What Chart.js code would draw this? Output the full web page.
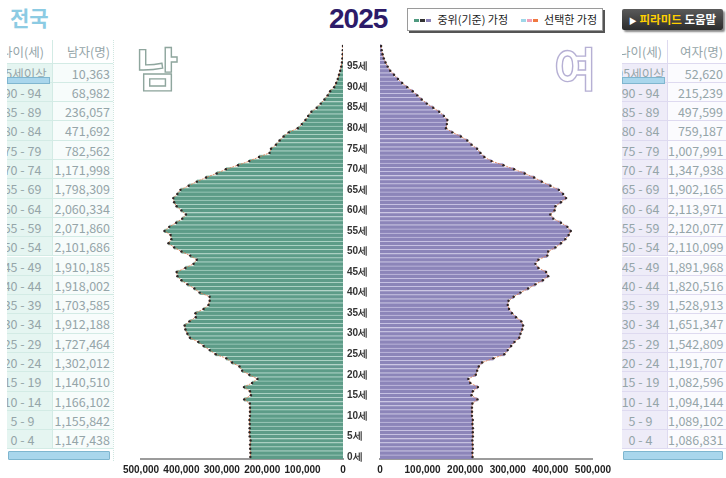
<!DOCTYPE html>
<html>
<head>
<meta charset="utf-8">
<script src="https://cdn.jsdelivr.net/npm/chart.js@4.4.1/dist/chart.umd.min.js"></script>
<style>
body { margin:0; width:726px; height:478px; overflow:hidden; background:#fff; position:relative;
       font-family:"Noto Sans CJK KR","Noto Sans",sans-serif; }
.abs { position:absolute; }
#region { left:10px; top:2px; font-size:21px; font-weight:bold; color:#8ccbe3; }
#year { left:329px; top:3px; font-family:"Liberation Sans",Arial,sans-serif; font-size:28px; font-weight:bold; color:#2d1b69; letter-spacing:-1px; }
#legend { left:407px; top:8px; width:194px; height:21px; border:1px solid #9a9a9a; box-shadow:2px 2px 0 #555; background:#fff;
          font-size:11px; color:#222; line-height:21px; white-space:nowrap; }
#legend .ico { display:inline-block; vertical-align:middle; height:3px; width:5px; margin-right:1px; position:relative; top:-1px; }
#helpBtn { left:622px; top:9px; width:101px; height:21px; background:linear-gradient(#5a5a5a,#2c2c2c); border-radius:2px;
           box-shadow:2px 2px 2px #888; font-size:11.5px; font-weight:bold; line-height:21px; text-align:center; color:#fff; white-space:nowrap; }
.sex { font-size:46px; font-weight:bold; color:#fff; line-height:46px; }
#male { left:136px; top:43px; -webkit-text-stroke:1.4px #8fa69e; }
#female { left:554px; top:43px; -webkit-text-stroke:1.4px #b6b0d4; }
.tbl { overflow:hidden; top:40px; height:421px; font-size:12.5px; color:#95a5a9; }
.cell { position:absolute; box-sizing:border-box; white-space:nowrap; overflow:hidden; }
canvas { position:absolute; top:0; }
</style>
</head>
<body>

<div id="region" class="abs">전국</div>
<div id="year" class="abs">2025</div>
<div id="legend" class="abs">
  <span style="margin-left:6px"></span><span class="ico" style="background:#4f9a80"></span><span class="ico" style="background:#333"></span><span class="ico" style="background:#8b83b8"></span>
  <span style="margin-left:3px">중위(기준) 가정</span>
  <span style="margin-left:10px"></span><span class="ico" style="background:#9fd6e8"></span><span class="ico" style="background:#f0a0b8"></span><span class="ico" style="background:#f07840"></span>
  <span style="margin-left:3px">선택한 가정</span>
</div>
<div id="helpBtn" class="abs"><span style="font-size:8px">▶</span> <span style="color:#ffd000">피라미드</span> 도움말</div>

<div id="leftTable" class="abs tbl" style="left:7px;width:106px;border-right:1px dotted #cfe6e0"></div>
<div id="rightTable" class="abs tbl" style="left:622px;width:104px"></div>

<canvas id="maleChart" width="255" height="478" style="left:100px"></canvas>
<canvas id="femaleChart" width="273" height="478" style="left:343px"></canvas>

<div id="male" class="abs sex">남</div>
<div id="female" class="abs sex">여</div>

<script>
// single-year ages, 0 ~ 100
const ages = Array.from({ length: 101 }, (_, i) => i);

// 남자, 중위(기준) 가정
const maleBase = [
    229400, 229200, 229800, 230100, 228900,
    231000, 231300, 231100, 230900, 231500,
    230400, 230200, 230300, 230600, 244600,
    228100, 230400, 245200, 225000, 211800,
    232000, 249800, 256300, 274900, 289000,
    315200, 330100, 345000, 358200, 379000,
    385300, 390100, 392000, 380200, 364600,
    365200, 345100, 333000, 330100, 330200,
    355100, 368000, 385000, 400000, 409900,
    411800, 390200, 370000, 361900, 378300,
    400000, 418000, 432000, 424900, 426800,
    441900, 430100, 413000, 398000, 388900,
    400100, 412000, 418000, 420100, 410100,
    402300, 382100, 362000, 339000, 312900,
    290100, 260000, 232100, 207900, 181900,
    178200, 166000, 157000, 147100, 134300,
    112100, 102000, 93100, 86200, 78300,
    65000, 55100, 46000, 38000, 31900,
    22000, 17000, 13000, 10000, 7000,
    4500, 2700, 1600, 900, 500, 160
];
// 남자, 선택한 가정
const maleSel = maleBase.slice();

// 여자, 중위(기준) 가정
const femaleBase = [
    217300, 217000, 218000, 217600, 216900,
    218100, 217900, 218200, 217000, 217900,
    216000, 216100, 216000, 217000, 229000,
    215000, 218100, 230000, 212000, 207500,
    225000, 228200, 232000, 240000, 266500,
    292000, 300000, 308000, 315800, 327000,
    330000, 334000, 336000, 331800, 319500,
    310000, 303000, 300000, 301900, 314000,
    330000, 348000, 365000, 382500, 395000,
    390000, 372000, 365000, 372000, 393000,
    395000, 412000, 425000, 435100, 443000,
    448000, 440000, 425000, 407100, 400000,
    410000, 412000, 425000, 437000, 430000,
    420000, 400200, 380000, 362000, 340000,
    315000, 290000, 262000, 245000, 235900,
    228000, 215000, 205000, 190000, 170000,
    155000, 157000, 158200, 150000, 139000,
    125000, 110000, 98000, 87600, 77000,
    64000, 52000, 42200, 33000, 24000,
    18000, 13000, 9000, 6000, 4000, 2600
];
// 여자, 선택한 가정
const femaleSel = femaleBase.slice();

// side tables
const ageGroups = ["95세이상", "90 - 94", "85 - 89", "80 - 84", "75 - 79", "70 - 74", "65 - 69", "60 - 64", "55 - 59", "50 - 54",
                   "45 - 49", "40 - 44", "35 - 39", "30 - 34", "25 - 29", "20 - 24", "15 - 19", "10 - 14", "5 - 9", "0 - 4"];
const maleTotals = [10363, 68982, 236057, 471692, 782562, 1171998, 1798309, 2060334, 2071860, 2101686,
                    1910185, 1918002, 1703585, 1912188, 1727464, 1302012, 1140510, 1166102, 1155842, 1147438];
const femaleTotals = [52620, 215239, 497599, 759187, 1007991, 1347938, 1902165, 2113971, 2120077, 2110099,
                      1891968, 1820516, 1528913, 1651347, 1542809, 1191707, 1082596, 1094144, 1089102, 1086831];

const xTicks = [0, 100000, 200000, 300000, 400000, 500000];

function buildTable(el, head2, totals, shift, w1, w2, bg1, bg2, line, bar) {
    const headH = 23.5, rowH = 19.3;
    let html = "";
    const rows = [["나이(세)", head2]].concat(ageGroups.map((g, i) => [g, totals[i].toLocaleString("en-US")]));
    rows.forEach((r, i) => {
        const top = i === 0 ? 0 : headH + (i - 1) * rowH;
        const h = i === 0 ? headH : rowH;
        html += `<div class="cell" style="left:${shift}px;top:${top}px;width:${w1}px;height:${h}px;line-height:${h}px;text-align:center;background:${i ? bg1 : "#fff"};border-bottom:1px solid ${line};border-right:1px solid ${line}">${r[0]}</div>`;
        html += `<div class="cell" style="left:${shift + w1}px;top:${top}px;width:${w2}px;height:${h}px;line-height:${h}px;text-align:right;padding-right:3px;background:${i ? bg2 : "#fff"};border-bottom:1px solid ${line}">${r[1]}</div>`;
    });
    html += `<div class="cell" style="left:0;top:37px;width:43px;height:7px;background:${bar};border:1px solid #7fb6cf"></div>`;
    html += `<div class="cell" style="left:1px;top:411px;width:${w1 + w2 + shift - 4}px;height:9px;background:${bar};border:1px solid #7fb6cf;border-radius:1px"></div>`;
    el.innerHTML = html;
}
buildTable(document.getElementById("leftTable"), "남자(명)", maleTotals, -14, 60, 60, "#e5f5f1", "#f7fcfb", "#d3ebe5", "#a9d6ec");
buildTable(document.getElementById("rightTable"), "여자(명)", femaleTotals, -8, 54, 58, "#eeecf8", "#fbfbfe", "#dedaf0", "#a9d6ec");

// charts draw top to bottom, so oldest age first
const labels = ages.slice().reverse().map(String);
const rev = arr => arr.slice().reverse();

function xScale(reverse) {
    return {
        min: 0, max: 500000, reverse: reverse,
        afterBuildTicks: s => { s.ticks = xTicks.map(v => ({ value: v })); },
        ticks: { autoSkip: false, callback: v => v.toLocaleString("en-US"), font: { size: 10, weight: "bold", family: "Liberation Sans" }, color: "#222", maxRotation: 0, padding: 5 },
        grid: { display: false, drawTicks: false },
        border: { color: "#9b9b9b", width: 2, dash: [19, 2] },
        afterFit: s => { s.height = 19; }
    };
}

function datasets(base, sel, fill, stripe) {
    return [
        { type: "line", indexAxis: "y", data: rev(sel), borderColor: "rgba(225,125,80,0.85)", borderWidth: 1, borderDash: [2, 1],
          pointRadius: 1.2, pointBackgroundColor: "#2e2424", pointBorderWidth: 0, order: 0 },
        { type: "bar", data: rev(base), backgroundColor: fill, borderColor: stripe, borderWidth: { top: 1, bottom: 0, left: 0, right: 0 },
          borderSkipped: false, barPercentage: 1, categoryPercentage: 1, order: 1 }
    ];
}

new Chart(document.getElementById("maleChart"), {
    type: "bar",
    data: { labels: labels, datasets: datasets(maleBase, maleSel, "#5d9c88", "#a9d1c2") },
    options: {
        indexAxis: "y", responsive: false, animation: false,
        layout: { padding: { left: 41, right: 12, top: 44, bottom: 0 } },
        plugins: { legend: { display: false }, tooltip: { enabled: false } },
        scales: { x: xScale(true), y: { display: false } }
    }
});

new Chart(document.getElementById("femaleChart"), {
    type: "bar",
    data: { labels: labels, datasets: datasets(femaleBase, femaleSel, "#8c85b9", "#c6c1e2") },
    options: {
        indexAxis: "y", responsive: false, animation: false,
        layout: { padding: { left: 4, right: 23, top: 44, bottom: 0 } },
        plugins: { legend: { display: false }, tooltip: { enabled: false } },
        scales: {
            x: xScale(false),
            y: {
                position: "left",
                grid: { display: false, drawTicks: false },
                border: { display: false },
                ticks: {
                    autoSkip: false, crossAlign: "far", padding: 0, color: "#333",
                    font: { size: 10, weight: "bold" },
                    callback: function (v) {
                        const a = +this.getLabelForValue(v);
                        return a % 5 === 0 && a < 100 ? a + "세" : "";
                    }
                },
                afterFit: s => { s.width = 33; }
            }
        }
    }
});
</script>
</body>
</html>
